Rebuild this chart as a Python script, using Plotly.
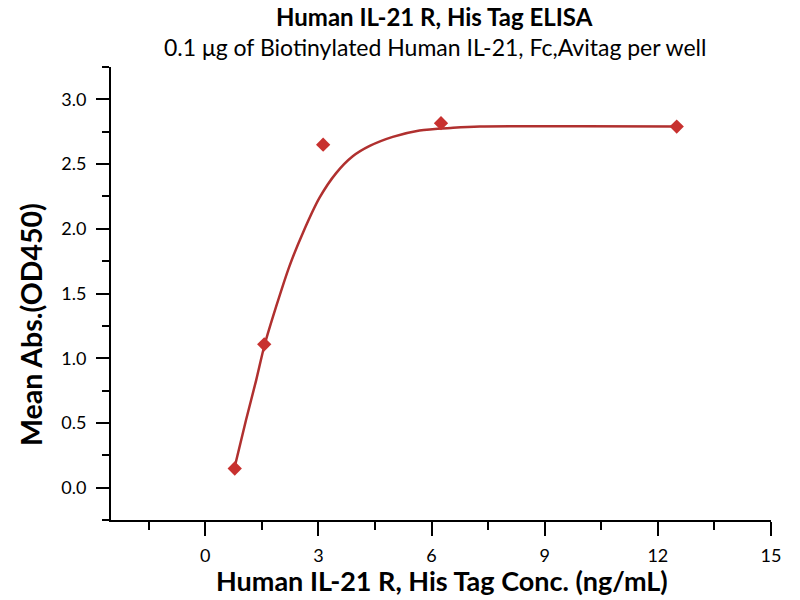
import plotly.graph_objects as go

# Measured data points
conc = [0.781, 1.563, 3.125, 6.25, 12.5]
od450 = [0.148, 1.107, 2.650, 2.816, 2.790]

# Fitted curve
fit_x = [0.77, 1.08, 1.35, 1.57, 1.88, 2.23, 2.59, 3.03, 3.47, 3.91, 4.36, 4.97, 5.68, 6.57, 7.28, 8.5, 10.0, 12.5]
fit_y = [0.148, 0.522, 0.831, 1.10, 1.40, 1.71, 1.97, 2.24, 2.43, 2.56, 2.64, 2.71, 2.76, 2.78, 2.79, 2.792, 2.792, 2.79]

x_ticks = [0, 3, 6, 9, 12, 15]
x_minor = [-1.5, 1.5, 4.5, 7.5, 10.5, 13.5]
y_ticks = [0.0, 0.5, 1.0, 1.5, 2.0, 2.5, 3.0]
y_minor = [-0.25, 0.25, 0.75, 1.25, 1.75, 2.25, 2.75, 3.25]

title_text = "<b>Human IL-21 R, His Tag ELISA</b>"
subtitle_text = "0.1 μg of Biotinylated Human IL-21, Fc,Avitag per well"
x_title = "<b>Human IL-21 R, His Tag Conc. (ng/mL)</b>"
y_title = "<b>Mean Abs.(OD450)</b>"

font_family = "Lato, Open Sans, sans-serif"

W, H = 800, 600
L, R, T, B = 111, 29, 67, 80

def px_x(p):
    return (p - L) / (W - L - R)

def px_y(p):
    return (H - B - p) / (H - T - B)

fig = go.Figure()
fig.add_trace(go.Scatter(
    x=fit_x, y=fit_y, mode="lines",
    line=dict(color="#b0302f", width=2.5, shape="spline", smoothing=0.8),
    hoverinfo="skip", showlegend=False, cliponaxis=False))
fig.add_trace(go.Scatter(
    x=conc, y=od450, mode="markers",
    marker=dict(symbol="diamond", size=11, color="#c8312f"), showlegend=False, cliponaxis=False))

fig.update_layout(
    width=W, height=H,
    paper_bgcolor="white", plot_bgcolor="white",
    margin=dict(l=L, r=R, t=T, b=B),
    font=dict(family=font_family, color="black"),
    annotations=[
        dict(text=title_text, xref="paper", yref="paper", x=px_x(434), y=px_y(16),
             xanchor="center", yanchor="middle", showarrow=False, font=dict(size=24)),
        dict(text=subtitle_text, xref="paper", yref="paper", x=px_x(435), y=px_y(47),
             xanchor="center", yanchor="middle", showarrow=False, font=dict(size=23)),
        dict(text=x_title, xref="paper", yref="paper", x=px_x(442), y=px_y(580),
             xanchor="center", yanchor="middle", showarrow=False, font=dict(size=27)),
        dict(text=y_title, xref="paper", yref="paper", x=px_x(31), y=px_y(325),
             xanchor="center", yanchor="middle", showarrow=False, textangle=-90, font=dict(size=28.5)),
    ],
)

fig.update_xaxes(
    range=[-2.5, 15], tickvals=x_ticks, ticktext=[str(v) for v in x_ticks],
    showgrid=False, zeroline=False, showline=True, linecolor="black", linewidth=2,
    ticks="outside", ticklen=14, tickwidth=2, tickcolor="black", automargin=False,
    tickfont=dict(size=18), ticklabelstandoff=4,
    minor=dict(tickvals=x_minor, ticks="outside", ticklen=8, tickwidth=2, tickcolor="black"),
)
fig.update_yaxes(
    range=[-0.25, 3.25], tickvals=y_ticks, ticktext=[f"{v:.1f}" for v in y_ticks],
    showgrid=False, zeroline=False, showline=True, linecolor="black", linewidth=2,
    ticks="outside", ticklen=13, tickwidth=2, tickcolor="black", automargin=False,
    tickfont=dict(size=18), ticklabelstandoff=6,
    minor=dict(tickvals=y_minor, ticks="outside", ticklen=7, tickwidth=2, tickcolor="black"),
)

fig.write_html("out.html", config={"displayModeBar": False},
               post_script="document.body.style.margin='0';")
